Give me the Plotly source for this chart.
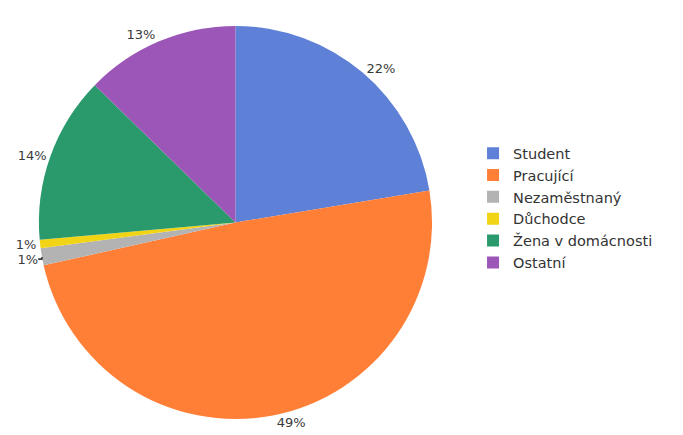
import plotly.graph_objects as go

# Occupation shares of respondents (percent)
categories = ["Student", "Pracující", "Nezaměstnaný", "Důchodce", "Žena v domácnosti", "Ostatní"]
shares = [22.4, 49.1, 1.4, 0.7, 13.7, 12.7]
colors = ["#5E80D6", "#FF7F37", "#B3B3B3", "#F2D416", "#2A9A6C", "#9B56B8"]

fig = go.Figure(
    go.Pie(
        labels=categories,
        values=shares,
        sort=False,
        direction="clockwise",
        rotation=0,
        marker=dict(colors=colors, line=dict(width=0)),
        texttemplate="%{percent:.0%}",
        textposition="outside",
        textfont=dict(family="DejaVu Sans", size=13, color="#3a3a3a"),
        domain=dict(x=[0, 0.623], y=[0.03, 0.94]),
        hoverinfo="label+percent",
    )
)

fig.update_layout(
    width=683,
    height=435,
    margin=dict(l=0, r=0, t=0, b=0),
    paper_bgcolor="white",
    plot_bgcolor="white",
    font=dict(family="DejaVu Sans", color="#333333"),
    legend=dict(
        x=0.677,
        y=0.518,
        xanchor="left",
        yanchor="middle",
        font=dict(family="DejaVu Sans", size=14.5, color="#333333"),
        itemwidth=30,
        tracegroupgap=0,
    ),
)

fig.write_html("out.html")
